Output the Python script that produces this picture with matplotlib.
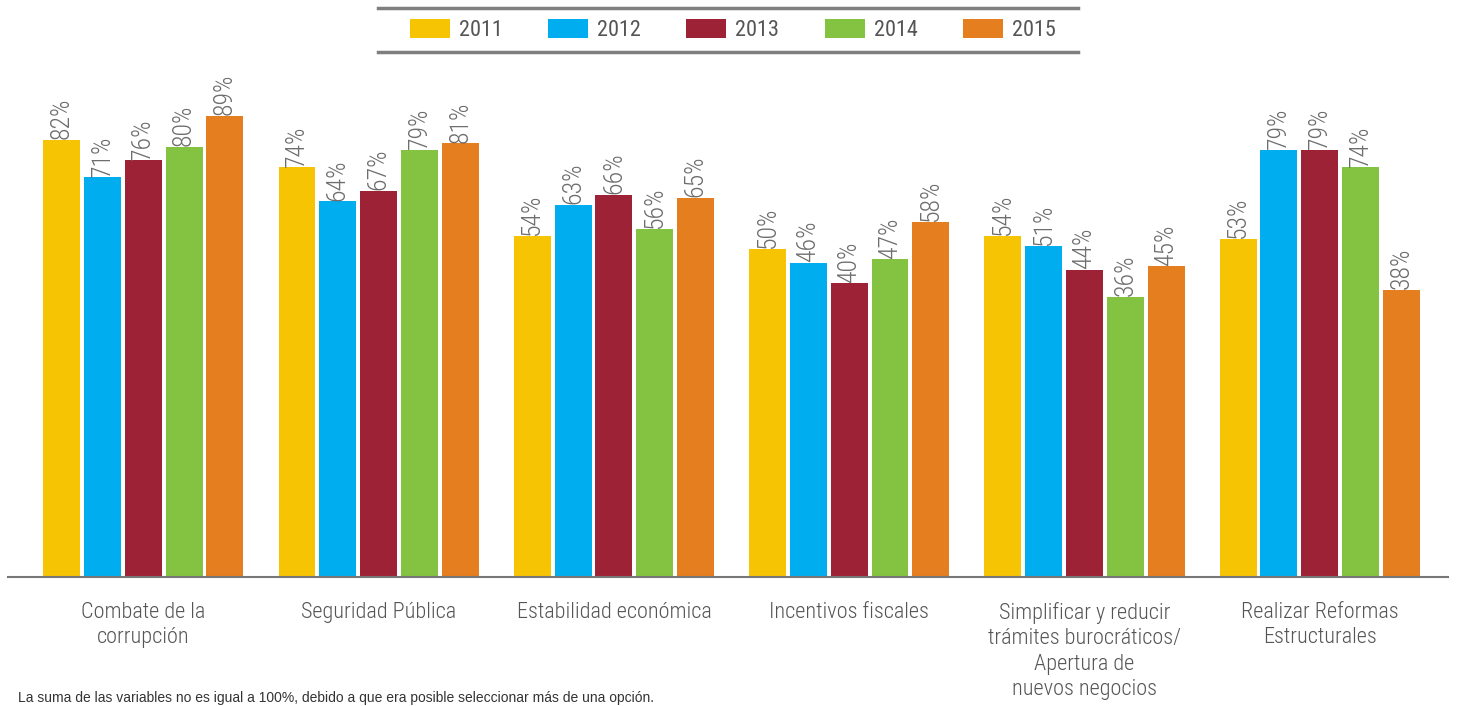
import matplotlib
matplotlib.use('Agg')
import matplotlib.pyplot as plt
from matplotlib.lines import Line2D
import numpy as np

categories = ['Combate de la\ncorrupción', 'Seguridad Pública', 'Estabilidad económica',
              'Incentivos fiscales',
              'Simplificar y reducir\ntrámites burocráticos/\nApertura de\nnuevos negocios',
              'Realizar Reformas\nEstructurales']
years = ['2011', '2012', '2013', '2014', '2015']
v2011 = [82, 74, 54, 50, 54, 53]
v2012 = [71, 64, 63, 46, 51, 79]
v2013 = [76, 67, 66, 40, 44, 79]
v2014 = [80, 79, 56, 47, 36, 74]
v2015 = [89, 81, 65, 58, 45, 38]
series = [v2011, v2012, v2013, v2014, v2015]
colours = ['#F7C404', '#00AEEF', '#9E2235', '#84C341', '#E57E1E']

plt.rcParams['font.family'] = ['Roboto Condensed', 'Roboto', 'DejaVu Sans']

fig = plt.figure(figsize=(14.58, 7.06), dpi=100)
ax = fig.add_axes([8/1458, 1-577/706, 1440/1458, (577-60)/706])

base = -46  # axis floor used by the original chart
x = np.arange(len(categories))
pitch = 0.1734
width = 0.157
handles = []
for i, vals in enumerate(series):
    pos = x + (i - 2) * pitch
    vals = np.array(vals)
    b = ax.bar(pos, vals - base, bottom=base, width=width, color=colours[i], label=years[i])
    handles.append(b)
    for px, v in zip(pos, vals):
        ax.annotate(f'{v}%', (px, v), xytext=(0, 0.5), textcoords='offset points',
                    rotation=90, ha='center', va='bottom', fontsize=18.5,
                    fontweight='light', color='#6d6d6d')

ax.set_xlim(-0.575, 5.545)
ax.set_ylim(base, 105.4)
ax.set_xticks(x)
ax.set_xticklabels(categories, fontsize=16, color='#555555', linespacing=1.27,
                   fontweight='light')
ax.tick_params(axis='x', length=0, pad=18)
ax.set_yticks([])
for s in ['top', 'right', 'left']:
    ax.spines[s].set_visible(False)
ax.spines['bottom'].set_color('#777777')
ax.spines['bottom'].set_linewidth(1.5)

# legend between two gray rules
fig.add_artist(Line2D([378/1458, 1078/1458], [1-8/706, 1-8/706], color='#7f7f7f', lw=2.5))
fig.add_artist(Line2D([378/1458, 1078/1458], [1-52/706, 1-52/706], color='#7f7f7f', lw=2.5))
leg = fig.legend(handles=handles, labels=years, loc='center', bbox_to_anchor=(733/1458, 1-30/706),
                 ncol=5, frameon=False, fontsize=16, handlelength=1.8, handleheight=0.95,
                 handletextpad=0.4, columnspacing=2.05)
for t in leg.get_texts():
    t.set_color('#555555')

fig.text(18/1458, 1-705/706, 'La suma de las variables no es igual a 100%, debido a que era posible seleccionar más de una opción.',
         fontsize=10, color='#333333', ha='left', va='bottom', family=['Liberation Sans', 'DejaVu Sans'])

fig.savefig('out.png', dpi=100)
